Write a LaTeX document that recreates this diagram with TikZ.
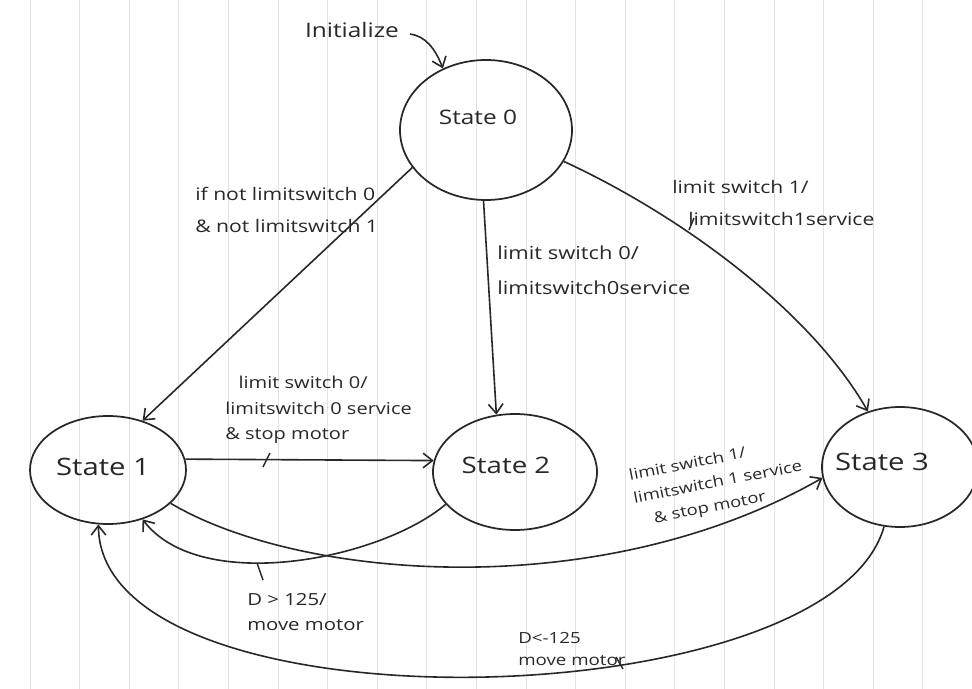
\documentclass[tikz,border=0pt]{standalone}
\usepackage{fontspec}
\setmainfont{Open Sans}[FakeStretch=1.22]
\usetikzlibrary{shapes.geometric,arrows.meta}
\definecolor{ink}{RGB}{40,40,40}
\tikzset{
  statebox/.style={draw=ink, line width=1.3pt, ellipse, inner sep=0pt},
  lbl/.style={text=ink, font=\fontsize{13}{24}\selectfont, inner sep=0pt, align=left},
  stxt/.style={text=ink, inner sep=0pt},
  edge/.style={draw=ink, line width=1.2pt, -{Straight Barb[length=7pt,width=11pt]}},
  tick/.style={draw=ink, line width=1.1pt},
  paper/.style={draw=gray!22, line width=0.5pt}
}
\begin{document}
\begin{tikzpicture}[x=0.75pt,y=-0.75pt]
\useasboundingbox (0,0) rectangle (972,689);
\fill[white] (0,0) rectangle (972,689);
% ruled paper lines
\foreach \i in {0,...,19} {
  \draw[paper] ({30+49.6*\i},0) -- ({30+49.6*\i},689);
}
% states
\node[statebox, minimum width=172*0.75pt, minimum height=140*0.75pt] (s0) at (486,130) {};
\node[statebox, minimum width=156*0.75pt, minimum height=108*0.75pt] (s1) at (108,470) {};
\node[statebox, minimum width=164*0.75pt, minimum height=116*0.75pt] (s2) at (515,472) {};
\node[statebox, minimum width=156*0.75pt, minimum height=120*0.75pt] (s3) at (900,467) {};
\node[stxt, font=\fontsize{15}{18}\selectfont] (t0) at (478,117) {State 0};
\node[stxt, font=\fontsize{18}{22}\selectfont] (t1) at (103,467) {State 1};
\node[stxt, font=\fontsize{17}{21}\selectfont] (t2) at (506,465) {State 2};
\node[stxt, font=\fontsize{18}{22}\selectfont] (t3) at (882,462) {State 3};
% initial
\node[lbl, font=\fontsize{15}{18}\selectfont] (init) at (352,30) {Initialize};
\coordinate (initstart) at (410,34);
\draw[edge] (initstart) .. controls (425,36) and (435,48) .. (s0.125);
% edges
\draw[edge] (s0.207) -- (s1.55);
\draw[edge] (s0.268) -- (s2.108);
\draw[edge] (s0.-22) .. controls (680,215) and (810,310) .. (s3.120);
\draw[edge] (s1.8) -- (s2.172);
\draw[edge] (s1.-28) .. controls (300,580) and (600,605) .. (s3.188);
\draw[edge] (s2.205) .. controls (380,560) and (200,595) .. (s1.-55);
\draw[edge] (s3.-105) .. controls (830,720) and (100,735) .. (s1.-100);
% labels
\node[lbl, anchor=west] (l1) at (195,210) {if not limitswitch 0\\\& not limitswitch 1};
\node[lbl, anchor=west, font=\fontsize{13.5}{26}\selectfont] (l2) at (497,270) {limit switch 0/\\limitswitch0service};
\node[lbl, anchor=west] (l3) at (672,203) {limit switch 1/\\\hspace{12pt}limitswitch1service};
\node[lbl, anchor=west, font=\fontsize{12.3}{19}\selectfont] (l4) at (225,410) {\hspace{10pt}limit switch 0/\\limitswitch 0 service\\\& stop motor};
\node[lbl, anchor=center, rotate=11, font=\fontsize{11.3}{17.5}\selectfont] (l5) at (718,483) {limit switch 1/\\limitswitch 1 service\\\hspace{12pt}\& stop motor};
\node[lbl, anchor=west, font=\fontsize{12.5}{19}\selectfont] (l6) at (247,612) {D > 125/\\move motor};
\node[lbl, anchor=west, font=\fontsize{11.5}{17}\selectfont] (l7) at (518,649) {D<-125\\move motor};
% label pointer ticks
\draw[tick] (270,453) -- (263,467);
\draw[tick] (694,218) -- (689,230);
\draw[tick] (257,563) -- (263,580);
\draw[tick] (616,657) -- (623,669);
\end{tikzpicture}
\end{document}
